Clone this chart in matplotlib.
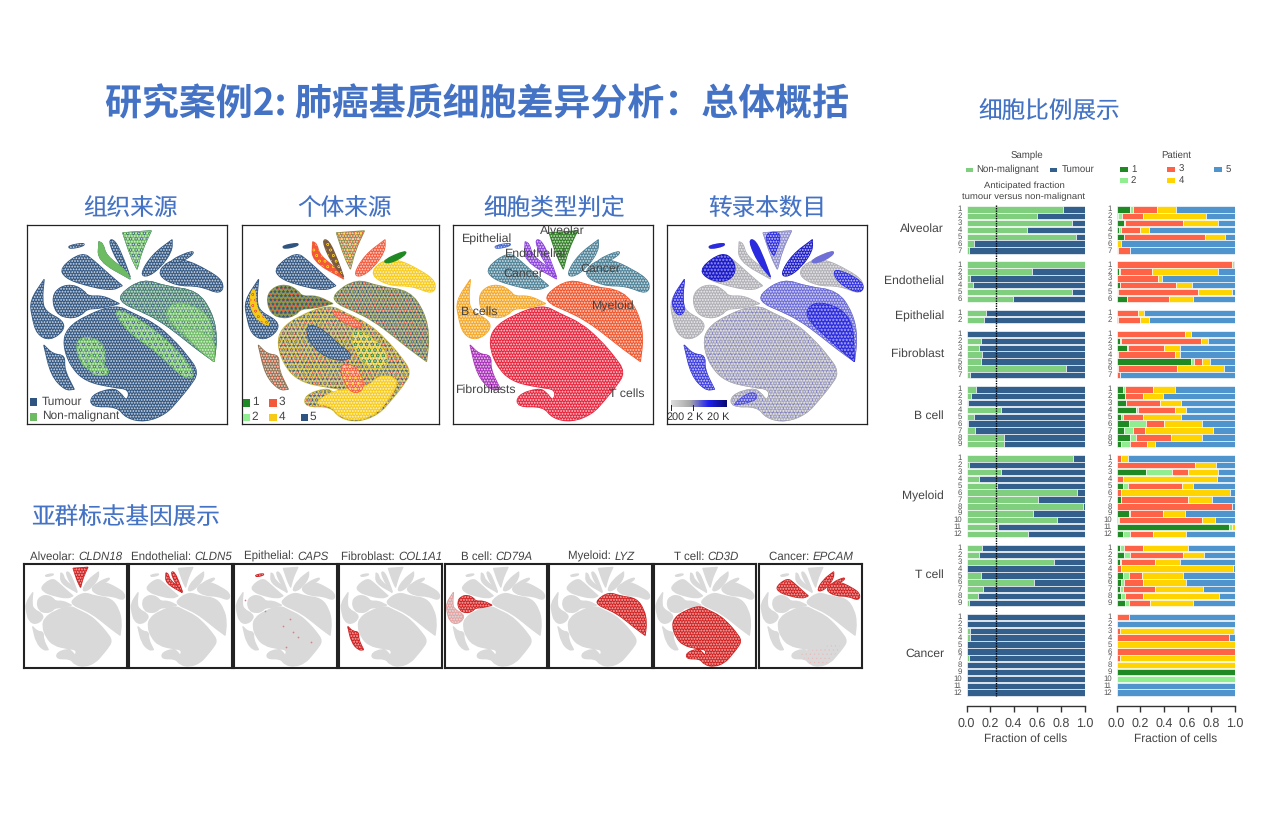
# encoding:utf-8
# lung cancer stroma slide: tSNE panels and fraction bars

import matplotlib
matplotlib.use('Agg')
import matplotlib.pyplot as plt
import numpy as np
from matplotlib.colors import LinearSegmentedColormap
from matplotlib.patches import PathPatch, Rectangle
from matplotlib.path import Path

plt.rcParams['font.family'] = ['Liberation Sans', 'Noto Sans CJK SC']
plt.rcParams['hatch.linewidth'] = 0.3
plt.rcParams['text.hinting'] = 'no_hinting'

W, H = 1261, 834
CJK = ['Noto Sans CJK SC', 'DejaVu Sans']
BLUE_TXT = '#4472c4'
GREY_TXT = '#444444'

# tSNE cluster outlines, panel units 0-200, y downwards; a repeated point keeps a sharp corner
T_CELL = [(40, 104), (59, 91), (89, 80), (106, 89), (128, 99), (146, 115), (160, 131), (172, 148),
          (162, 163), (152, 175), (139, 190), (118, 198), (99, 194), (90, 182), (64, 183), (64, 171),
          (85, 164), (93, 168), (100, 178), (103, 165), (85, 163), (58, 157), (43, 141), (36, 120)]
MYELOID = [(92, 70), (116, 54), (139, 62), (170, 66), (185, 88), (190, 112), (187, 137), (187, 137),
           (169, 124), (153, 111), (133, 96), (113, 86), (96, 79)]
B_BLOB = [(25, 72), (33, 62), (46, 60), (57, 66), (61, 72), (76, 71), (92, 79), (92, 79), (72, 84), (60, 84),
          (54, 91), (42, 94), (29, 89)]
B_STRIP = [(3, 76), (17, 55), (17, 55), (15, 75), (18, 87), (36, 96), (37, 106), (23, 116), (10, 110), (5, 92)]
FIBRO = [(17, 121), (17, 121), (26, 130), (38, 131), (37, 145), (47, 165), (47, 165), (38, 166), (24, 151)]
CANCER_L = [(33, 43), (55, 27), (67, 36), (80, 48), (95, 61), (95, 61), (84, 66), (56, 60), (38, 53)]
CANCER_R = [(130, 50), (140, 37), (156, 34), (180, 45), (197, 57), (194, 70), (173, 61), (149, 61)]
CANCER_T = [(142, 36), (167, 25), (165, 31), (149, 39)]
CANCER_M = [(113, 50), (125, 30), (145, 15), (145, 15), (145, 26), (134, 42), (121, 52)]
ALVEOLAR = [(96, 8), (96, 8), (124, 6), (124, 6), (115, 25), (110, 44), (110, 44), (104, 32)]
ENDO_A = [(72, 17), (72, 17), (71, 36), (103, 54), (103, 54), (99, 46), (79, 31), (76, 19)]
ENDO_B = [(81, 15), (88, 15), (97, 35), (103, 52), (103, 52), (91, 38)]
EPITHEL = [(41, 21), (57, 18), (57, 21), (43, 24)]

CLUSTERS = {'t': T_CELL, 'm': MYELOID, 'bb': B_BLOB, 'bs': B_STRIP, 'f': FIBRO, 'cl': CANCER_L,
            'cr': CANCER_R, 'ct': CANCER_T, 'cm': CANCER_M, 'a': ALVEOLAR, 'ea': ENDO_A,
            'eb': ENDO_B, 'ep': EPITHEL}

# patches inside clusters
T_UPPER = [(85, 83), (110, 93), (143, 118), (170, 150), (158, 156), (130, 127), (100, 107)]
T_LEFT = [(50, 112), (75, 115), (80, 140), (62, 148), (50, 132)]
T_LOWLEFT = [(60, 125), (88, 150), (62, 152)]
T_BOTTOM = [(72, 180), (95, 165), (125, 165), (140, 150), (160, 155), (149, 175), (136, 190), (116, 197), (98, 192), (90, 181)]
T_NAVY = [(65, 100), (80, 103), (100, 122), (112, 130), (105, 137), (85, 133), (68, 118)]
T_RED = [(100, 138), (118, 143), (125, 165), (112, 170), (102, 155)]
T_RED_UP = [(88, 85), (112, 92), (125, 105), (105, 100)]
T_GOLD_R = [(110, 105), (130, 110), (152, 135), (135, 148), (115, 130)]
MY_RIGHT = [(150, 75), (185, 90), (187, 137), (187, 137), (165, 118), (135, 90)]
MY_TIP = [(150, 100), (188, 112), (187, 137), (187, 137), (169, 123)]
ALV_LEFT = [(96, 8), (115, 7), (108, 28), (106, 32)]
CR_BLUE = [(165, 42), (197, 57), (194, 70), (170, 58)]
CL_DARK = [(33, 43), (55, 27), (67, 36), (68, 50), (56, 58), (38, 53)]
BS_TOP = [(3, 76), (17, 55), (17, 55), (15, 75), (18, 87), (10, 92)]
BS_GOLD = [(8, 70), (14, 62), (14, 85), (30, 100), (22, 100), (10, 88)]
COUNT_ARM = [(66, 180), (85, 166), (92, 175), (70, 181)]

CAPS_DOTS_X = [20, 60, 95, 108, 115, 125, 150, 100]
CAPS_DOTS_Y = [70, 90, 120, 105, 130, 140, 150, 160]

# panels, px box (left, top, right, bottom)
MAIN_BOXES = [(27, 225, 227, 424), (241.7, 225, 439.3, 424), (453.3, 225, 653.3, 424), (667.3, 225, 867.3, 424)]
MAIN_TITLES = ['组织来源', '个体来源', '细胞类型判定', '转录本数目']
MAIN_TITLE_X = [130, 344, 554, 767]
GENE_BOXES = [(24, 564.3, 126.7, 667.7), (129.3, 564.3, 231.7, 667.7), (234.3, 564.3, 336.7, 667.7),
              (339.3, 564.3, 441.7, 667.7), (444.7, 564.3, 546.7, 667.7), (549.3, 564.3, 651.7, 667.7),
              (654, 564.3, 756, 667.7), (759.3, 564.3, 861.7, 667.7)]
GENE_CELLS = ['Alveolar', 'Endothelial', 'Epithelial', 'Fibroblast', 'B cell', 'Myeloid', 'T cell', 'Cancer']
GENE_NAMES = ['CLDN18', 'CLDN5', 'CAPS', 'COL1A1', 'CD79A', 'LYZ', 'CD3D', 'EPCAM']
GENE_STRONG = [['a'], ['ea', 'eb'], ['ep'], ['f'], ['bb'], ['m'], ['t'], ['cl', 'cm', 'cr', 'ct']]

TYPE_LABELS = ['Epithelial', 'Alveolar', 'Endothelial', 'Cancer', 'Cancer', 'Myeloid', 'B cells', 'Fibroblasts', 'T cells']
TYPE_LABEL_X = [486.7, 562.7, 536, 523, 600, 613, 479, 486, 626.7]
TYPE_LABEL_Y = [239.3, 231, 253.3, 273.3, 268.3, 306.7, 311.7, 390, 393.3]

# bar chart data
GROUPS = ['Alveolar', 'Endothelial', 'Epithelial', 'Fibroblast', 'B cell', 'Myeloid', 'T cell', 'Cancer']
GROUP_LABEL_Y = [229, 281, 316, 354, 416, 496, 575, 654]
NON_MALIGNANT = [
    [.82, .60, .89, .51, .93, .065, .02],
    [1.0, .555, .03, .055, .895, .395],
    [.165, .15],
    [.005, .12, .11, .13, .12, .84, .03],
    [.08, .04, .015, .29, .06, .015, .07, .315, .32],
    [.90, .02, .29, .11, .255, .935, .61, .99, .56, .765, .27, .525],
    [.13, .105, .74, .005, .12, .57, .14, .10, .02],
    [0, 0, .03, .03, 0, 0, .02, .005, 0, 0, 0, 0],
]
PATIENT = [
    [[.115, .02, .21, .16, .495], [.015, .03, .18, .535, .24], [.065, .005, .49, .295, .145],
     [.02, .015, .16, .075, .73], [.06, 0, .69, .165, .085], [0, 0, 0, .035, .965], [0, .01, .10, 0, .89]],
    [[0, .005, .97, .02, .005], [.02, .005, .275, .555, .145], [0, .005, .345, .035, .615],
     [.025, 0, .48, .13, .365], [0, .01, .68, .285, .025], [.09, 0, .355, .2, .355]],
    [[0, .005, .175, .05, .77], [.015, 0, .18, .075, .73]],
    [[0, .005, .57, .055, .37], [.03, .01, .675, .06, .225], [.09, .005, .31, .13, .465],
     [0, .01, .485, .045, .46], [.63, .025, .07, .065, .21], [.005, .01, .5, .395, .09], [0, 0, .025, 0, .975]],
    [[.05, .02, .235, .19, .505], [.07, 0, .15, .175, .605], [.075, 0, .29, .18, .455],
     [.16, .02, .315, .09, .415], [.035, .02, .17, .32, .455], [.105, .14, .155, .32, .28],
     [.065, .075, .10, .575, .185], [.115, .045, .30, .26, .28], [.035, .08, .14, .07, .675]],
    [[0, .005, .035, .055, .905], [0, 0, .665, .18, .155], [.245, .22, .14, .25, .145],
     [0, 0, .05, .80, .15], [.055, .04, .46, .095, .35], [0, 0, .035, .925, .04],
     [.035, .005, .565, .205, .19], [0, 0, .98, 0, .02], [.10, .015, .275, .19, .42],
     [.015, .005, .70, .11, .17], [.95, .025, 0, .025, 0], [.05, .065, .195, .28, .41]],
    [[.03, .035, .16, .38, .395], [.06, .055, .45, .175, .26], [.025, .01, .29, .215, .46],
     [0, 0, .035, .95, .015], [.05, .05, .115, .345, .44], [.04, .02, .165, .36, .415],
     [.03, .02, .275, .405, .27], [.04, .03, .155, .64, .135], [.07, .03, .185, .36, .355]],
    [[0, .005, .10, 0, .895], [0, 0, 0, 0, 1], [0, 0, .03, .965, .005], [0, 0, .95, 0, .05],
     [0, 0, 0, 1, 0], [0, 0, 1, 0, 0], [0, 0, .025, .975, 0], [0, 0, 0, 1, 0], [1, 0, 0, 0, 0],
     [0, 1, 0, 0, 0], [0, 0, 0, 0, 1], [0, 0, 0, 0, 1]],
]
ANTICIPATED = 0.25
X_TICKS = [0.0, 0.2, 0.4, 0.6, 0.8, 1.0]

NON_COL = '#7fcf7f'
TUM_COL = '#335f8c'
PAT_COLS = ['#1f8a24', '#90ee90', '#ff6347', '#ffd400', '#4f94cd']
NAVY = '#2f5480'
GREEN = '#6dbb63'
RED = '#f4583a'
GOLD = '#f7ca18'
DGREEN = '#1f8a24'
LGREEN = '#90ee90'
ROW_PX = 6.87
FIRST_ROW_PX = 209.3
GROUP_GAP = 1.05
SPECK = ('******', '#ffffff90')


def px_axes(fig, box):
    left, top, right, bottom = box
    return fig.add_axes([left / W, 1 - bottom / H, (right - left) / W, (bottom - top) / H])


def px_text(fig, x, y, s, **kw):
    kw.setdefault('ha', 'center')
    kw.setdefault('va', 'center')
    kw.setdefault('color', GREY_TXT)
    return fig.text(x / W, 1 - y / H, s, **kw)


def px_rect(fig, left, top, right, bottom, color):
    fig.add_artist(Rectangle((left / W, 1 - bottom / H), (right - left) / W, (bottom - top) / H,
                             transform=fig.transFigure, facecolor=color, edgecolor='none'))


# rounded closed path using the outline points as bezier controls
def smooth_path(outline):
    pts = np.array(outline, dtype=float)
    mids = (pts + np.roll(pts, -1, axis=0)) / 2
    verts = [mids[-1]]
    codes = [Path.MOVETO]
    for p, m in zip(pts, mids):
        verts += [p, m]
        codes += [Path.CURVE3, Path.CURVE3]
    return Path(verts, codes)


def blob(ax, outline, color, overlays=()):
    path = smooth_path(outline)
    ax.add_patch(PathPatch(path, facecolor=color, edgecolor=color, linewidth=1.0, joinstyle='round'))
    for hatch, col in overlays:
        ax.add_patch(PathPatch(path, fill=False, edgecolor=col, hatch=hatch, linewidth=0))


def tsne_axes(fig, box, frame_lw=0.9):
    ax = px_axes(fig, box)
    ax.set_xlim(0, 200)
    ax.set_ylim(200, 0)
    ax.set_xticks([])
    ax.set_yticks([])
    for spine in ax.spines.values():
        spine.set_linewidth(frame_lw)
        spine.set_color('#222222')
    return ax


def panel_sample(ax):
    for outline in CLUSTERS.values():
        blob(ax, outline, NAVY, [SPECK])
    mix_green = [('ooo', NAVY), SPECK]
    blob(ax, ALVEOLAR, GREEN, mix_green)
    blob(ax, ENDO_A, GREEN)
    blob(ax, MYELOID, '#4f8a72', mix_green)
    blob(ax, MY_RIGHT, GREEN, [('ooo', '#3f7a70'), SPECK])
    blob(ax, MY_TIP, GREEN, [SPECK])
    for patch in [T_UPPER, T_LEFT, T_LOWLEFT]:
        blob(ax, patch, GREEN, mix_green)


def panel_patient(ax):
    mixed = [('ooo', RED), ('****', NAVY), ('******', '#ffffff70')]
    blob(ax, T_CELL, '#c9b838', mixed)
    blob(ax, MYELOID, '#8d9a4e', [('ooo', RED), ('****', NAVY), ('******', '#ffffff70')])
    blob(ax, B_BLOB, '#8d9a4e', [('ooo', RED), ('****', NAVY)])
    blob(ax, B_STRIP, NAVY, [SPECK])
    blob(ax, BS_GOLD, GOLD, [('ooo', RED)])
    blob(ax, FIBRO, '#8c6f50', [('ooo', RED), SPECK])
    blob(ax, CANCER_L, NAVY, [SPECK])
    blob(ax, CANCER_R, GOLD, [SPECK])
    blob(ax, CANCER_T, DGREEN)
    blob(ax, CANCER_M, RED, [SPECK])
    blob(ax, ALVEOLAR, '#7f8e4a', [('ooo', GOLD), ('****', RED), SPECK])
    blob(ax, ENDO_A, RED, [('ooo', GOLD)])
    blob(ax, ENDO_B, '#7a5a40', [('ooo', GOLD)])
    blob(ax, EPITHEL, NAVY)
    blob(ax, T_BOTTOM, GOLD, [SPECK])
    blob(ax, T_GOLD_R, '#e3c428', [('***', NAVY), ('ooo', DGREEN), SPECK])
    blob(ax, T_RED, RED, [('ooo', GOLD), SPECK])
    blob(ax, T_RED_UP, RED, [SPECK])
    blob(ax, T_NAVY, NAVY, [SPECK])


def panel_types(ax):
    colours = {'t': '#e8213a', 'm': '#f0552a', 'bb': '#f5a623', 'bs': '#f5a623', 'f': '#a62db8', 'cl': '#4a7f95',
               'cr': '#4a7f95', 'ct': '#4a7f95', 'cm': '#4a7f95', 'a': '#2e7d22', 'ea': '#8a3fdc', 'eb': '#8a3fdc',
               'ep': '#3a5fd0'}
    for key, outline in CLUSTERS.items():
        blob(ax, outline, colours[key], [SPECK])


def panel_counts(ax):
    grey = '#aeaeb4'
    blue = '#2a2ae0'
    for outline in CLUSTERS.values():
        blob(ax, outline, grey, [SPECK])
    blob(ax, T_CELL, grey, [('****', '#7c7cc8'), SPECK])
    blob(ax, MYELOID, '#6a6ad8', [SPECK])
    blob(ax, MY_RIGHT, blue, [('*****', '#a0a0f0')])
    blob(ax, CL_DARK, '#1818c8', [('*****', '#8888e8')])
    blob(ax, BS_TOP, blue, [SPECK])
    blob(ax, FIBRO, '#3a3ae0', [SPECK])
    blob(ax, CANCER_M, '#1818c8', [SPECK])
    blob(ax, ALVEOLAR, '#8f8fcf', [SPECK])
    blob(ax, ALV_LEFT, blue, [SPECK])
    blob(ax, CR_BLUE, blue, [SPECK])
    blob(ax, CANCER_T, '#6f6fd8')
    blob(ax, ENDO_B, blue)
    blob(ax, EPITHEL, blue)
    blob(ax, COUNT_ARM, '#4a4ad8', [SPECK])


def panel_gene(ax, strong, gene_idx):
    for outline in CLUSTERS.values():
        blob(ax, outline, '#d9d9d9')
    for key in strong:
        blob(ax, CLUSTERS[key], '#d11f1f', [('******', '#ec9a9a')])
    if gene_idx == 2:
        ax.scatter(CAPS_DOTS_X, CAPS_DOTS_Y, s=1.5, color='#d88080', linewidths=0)
    if gene_idx == 4:
        blob(ax, B_STRIP, '#e8a0a0', [('******', '#d9d9d9')])
    if gene_idx == 7:
        blob(ax, T_BOTTOM, '#d9d9d9', [('....', '#ecb8b8')])


# cell name upright, gene name italic, centred together
def gene_title(fig, cx, y, cell, gene):
    size = 8.3
    renderer = fig.canvas.get_renderer()
    a = px_text(fig, 0, y, cell + ': ', fontsize=size, ha='left', va='baseline')
    b = px_text(fig, 0, y, gene, fontsize=size, ha='left', va='baseline', style='italic')
    wa = a.get_window_extent(renderer).width
    wb = b.get_window_extent(renderer).width
    start = cx - (wa + wb) / 2
    a.set_x(start / W)
    b.set_x((start + wa) / W)


def stacked_axes(fig, left, right):
    top, bottom = 205, 705.7
    ax = px_axes(fig, (left, top, right, bottom))
    ax.set_xlim(0, 1)
    ax.set_ylim((bottom - FIRST_ROW_PX) / ROW_PX, (top - FIRST_ROW_PX) / ROW_PX)
    ax.patch.set_alpha(0)
    for name in ['top', 'left', 'right']:
        ax.spines[name].set_visible(False)
    ax.spines['bottom'].set_linewidth(1.0)
    ax.spines['bottom'].set_color('#333333')
    ax.set_yticks([])
    ax.set_xticks(X_TICKS)
    ax.set_xticklabels(['{:.1f}'.format(t) for t in X_TICKS], fontsize=9, color=GREY_TXT)
    ax.tick_params(axis='x', length=4.2, width=1.0, color='#333333', pad=4.5)
    ax.set_xlabel('Fraction of cells', fontsize=8.6, color=GREY_TXT, labelpad=2.5)
    return ax


def row_positions():
    pos = []
    y = 0.0
    for values in NON_MALIGNANT:
        pos.append(y + np.arange(len(values)))
        y += len(values) + GROUP_GAP
    return pos


def row_labels(fig, y, label_x):
    for i, yy in enumerate(y):
        px_text(fig, label_x, FIRST_ROW_PX + yy * ROW_PX, str(i + 1), ha='right', fontsize=5.6, color='#555555')


def bars_sample(ax, label_x, fig):
    for y, values in zip(row_positions(), NON_MALIGNANT):
        values = np.array(values, dtype=float)
        ax.barh(y, values, height=0.94, color=NON_COL, edgecolor='white', linewidth=0.45)
        ax.barh(y, 1 - values, left=values, height=0.94, color=TUM_COL, edgecolor='white', linewidth=0.45)
        row_labels(fig, y, label_x)
    ax.plot([ANTICIPATED, ANTICIPATED], [-0.6, 70.9], color='black', linestyle=(0, (1, 0.8)), linewidth=1.0, clip_on=False)


def bars_patient(ax, label_x, fig):
    for y, rows in zip(row_positions(), PATIENT):
        rows = np.array(rows, dtype=float)
        lefts = np.zeros(len(rows))
        for k, col in enumerate(PAT_COLS):
            ax.barh(y, rows[:, k], left=lefts, height=0.94, color=col, edgecolor='white', linewidth=0.45)
            lefts = lefts + rows[:, k]
        row_labels(fig, y, label_x)


def main():
    fig = plt.figure(figsize=(W / 100, H / 100), dpi=100, facecolor='white')

    px_text(fig, 477, 105, '研究案例2: 肺癌基质细胞差异分析：总体概括', family=CJK, fontsize=26.6,
            fontweight='bold', color=BLUE_TXT)
    px_text(fig, 1049, 112, '细胞比例展示', family=CJK, fontsize=17, color=BLUE_TXT)
    px_text(fig, 126, 517, '亚群标志基因展示', family=CJK, fontsize=17, color=BLUE_TXT)
    for s, x in zip(MAIN_TITLES, MAIN_TITLE_X):
        px_text(fig, x, 208, s, family=CJK, fontsize=17, color=BLUE_TXT)

    panel_sample(tsne_axes(fig, MAIN_BOXES[0]))
    panel_patient(tsne_axes(fig, MAIN_BOXES[1]))
    panel_types(tsne_axes(fig, MAIN_BOXES[2]))
    panel_counts(tsne_axes(fig, MAIN_BOXES[3]))

    # legends inside tSNE panels
    px_rect(fig, 30, 398, 37.3, 406, NAVY)
    px_text(fig, 41.7, 401.7, 'Tumour', ha='left', fontsize=8.6)
    px_rect(fig, 30, 413.3, 37.3, 420.7, GREEN)
    px_text(fig, 41.7, 416.7, 'Non-malignant', ha='left', fontsize=8.6)
    for s, col, x, y in [('1', DGREEN, 242.7, 402.7), ('3', RED, 269.3, 402.7), ('2', LGREEN, 242.7, 417.5),
                         ('4', GOLD, 269.3, 417.5), ('5', NAVY, 300.7, 417.5)]:
        px_rect(fig, x, y - 3.8, x + 7.4, y + 3.8, col)
        px_text(fig, x + 12.5, y - 0.5, s, fontsize=8.6)
    for s, x, y in zip(TYPE_LABELS, TYPE_LABEL_X, TYPE_LABEL_Y):
        px_text(fig, x, y, s, fontsize=8.9, zorder=5)

    cbar = px_axes(fig, (670.7, 400, 726, 407.3))
    cmap = LinearSegmentedColormap.from_list('counts', ['#dcdcdc', '#a8a8a8', '#2222ee', '#0a0a70'])
    cbar.imshow(np.linspace(0, 1, 64)[None, :], cmap=cmap, aspect='auto')
    cbar.axis('off')
    for s, tick_x, x in [('200', 671.3, 676), ('2 K', 693.3, 695), ('20 K', 715, 718)]:
        px_rect(fig, tick_x - 0.4, 404.5, tick_x + 0.4, 411, '#222222')
        px_text(fig, x, 417, s, fontsize=7.8, color='#333333')

    # marker gene row
    for i, box in enumerate(GENE_BOXES):
        ax = tsne_axes(fig, box, frame_lw=1.5)
        panel_gene(ax, GENE_STRONG[i], i)
        gene_title(fig, (box[0] + box[2]) / 2 + 1, 560, GENE_CELLS[i], GENE_NAMES[i])

    # stacked bars
    bars_sample(stacked_axes(fig, 966.5, 1084.5), 961.7, fig)
    bars_patient(stacked_axes(fig, 1116.7, 1234.7), 1111.7, fig)
    for s, y in zip(GROUPS, GROUP_LABEL_Y):
        px_text(fig, 944, y, s, ha='right', fontsize=8.7)

    px_text(fig, 1026.5, 155, 'Sample', fontsize=6.9)
    px_rect(fig, 965.7, 167.7, 973, 172, NON_COL)
    px_text(fig, 976.7, 169.7, 'Non-malignant', ha='left', fontsize=6.9)
    px_rect(fig, 1050, 167.7, 1057.3, 172, TUM_COL)
    px_text(fig, 1061.7, 169.7, 'Tumour', ha='left', fontsize=6.9)
    px_text(fig, 1024, 186, 'Anticipated fraction', fontsize=6.8)
    px_text(fig, 1024, 197, 'tumour versus non-malignant', fontsize=6.8)

    px_text(fig, 1176, 155, 'Patient', fontsize=6.9)
    for s, col, x, y in [('1', PAT_COLS[0], 1120, 169.7), ('2', PAT_COLS[1], 1120, 180.7), ('3', PAT_COLS[2], 1167.3, 169.7),
                         ('4', PAT_COLS[3], 1167.3, 180.7), ('5', PAT_COLS[4], 1214.3, 169.7)]:
        px_rect(fig, x, y - 2.2, x + 8, y + 2.2, col)
        px_text(fig, x + 11, y, s, ha='left', fontsize=6.9)

    fig.savefig('out.png', dpi=100)


if __name__ == '__main__':
    main()
